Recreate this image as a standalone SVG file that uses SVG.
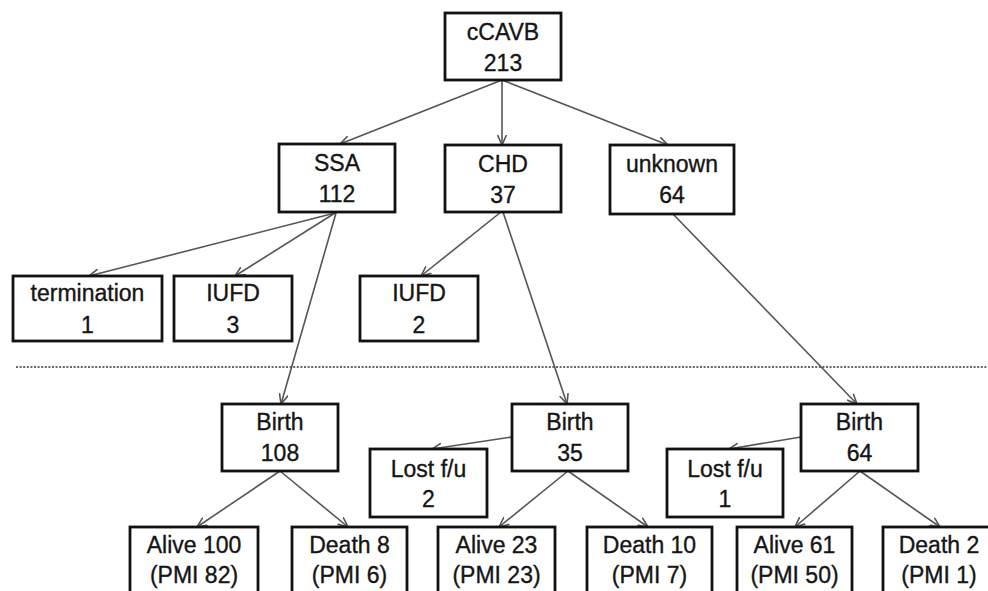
<svg xmlns="http://www.w3.org/2000/svg" width="988" height="591" viewBox="0 0 988 591">
<defs>
<style>
.box{fill:#fff;stroke:#111;stroke-width:2.8}
.t{font-family:"Liberation Sans",Arial,sans-serif;font-size:23px;fill:#151515;stroke:#151515;stroke-width:0.35;text-anchor:middle}
.c{fill:none;stroke:#555;stroke-width:1.6;marker-end:url(#ah)}
.sep{stroke:#666;stroke-width:2;stroke-dasharray:2 1.6;fill:none}
</style>
<marker id="ah" viewBox="0 0 10 10" refX="10" refY="5" markerWidth="10" markerHeight="10" markerUnits="userSpaceOnUse" orient="auto">
<path d="M0,0.5 L10,5 L0,9.5" fill="none" stroke="#555" stroke-width="1.6"/>
</marker>
</defs>
<rect width="988" height="591" fill="#fff"/>
<line class="sep" x1="16" y1="367" x2="988" y2="367"/>
<g id="connectors">
<line class="c" x1="502" y1="80" x2="340" y2="144"/>
<line class="c" x1="502" y1="80" x2="502" y2="145"/>
<line class="c" x1="502" y1="80" x2="668" y2="145"/>
<line class="c" x1="335" y1="213" x2="89" y2="276"/>
<line class="c" x1="335" y1="213" x2="235" y2="276"/>
<line class="c" x1="336" y1="213" x2="281" y2="404"/>
<line class="c" x1="501" y1="212" x2="421" y2="276"/>
<line class="c" x1="503" y1="212" x2="567" y2="404"/>
<line class="c" x1="673" y1="214" x2="857" y2="404"/>
<line class="c" x1="280" y1="471" x2="197" y2="527"/>
<line class="c" x1="280" y1="471" x2="348" y2="527"/>
<line class="c" x1="512" y1="437" x2="432" y2="449"/>
<line class="c" x1="568" y1="471" x2="499" y2="527"/>
<line class="c" x1="568" y1="471" x2="648" y2="527"/>
<line class="c" x1="801" y1="437" x2="729" y2="449"/>
<line class="c" x1="860" y1="471" x2="795" y2="527"/>
<line class="c" x1="860" y1="471" x2="940" y2="527"/>
</g>
<g id="cCAVB"><rect class="box" x="445" y="13" width="116" height="67"/><text class="t" x="503" y="40">cCAVB</text><text class="t" x="503" y="71">213</text></g>
<g id="SSA"><rect class="box" x="279" y="144" width="116" height="68"/><text class="t" x="337" y="171">SSA</text><text class="t" x="337" y="202">112</text></g>
<g id="CHD"><rect class="box" x="445" y="145" width="116" height="67"/><text class="t" x="503" y="172">CHD</text><text class="t" x="503" y="203">37</text></g>
<g id="unknown"><rect class="box" x="610" y="145" width="124" height="69"/><text class="t" x="672" y="172">unknown</text><text class="t" x="672" y="203">64</text></g>
<g id="termination"><rect class="box" x="13" y="276" width="149" height="65"/><text class="t" x="87.5" y="301">termination</text><text class="t" x="87.5" y="333">1</text></g>
<g id="IUFD3"><rect class="box" x="174" y="276" width="118" height="65"/><text class="t" x="233" y="301">IUFD</text><text class="t" x="233" y="333">3</text></g>
<g id="IUFD2"><rect class="box" x="360" y="276" width="118" height="65"/><text class="t" x="419" y="301">IUFD</text><text class="t" x="419" y="333">2</text></g>
<g id="Birth108"><rect class="box" x="222" y="404" width="116" height="67"/><text class="t" x="280" y="430">Birth</text><text class="t" x="280" y="461">108</text></g>
<g id="Birth35"><rect class="box" x="512" y="404" width="116" height="67"/><text class="t" x="570" y="430">Birth</text><text class="t" x="570" y="461">35</text></g>
<g id="Birth64"><rect class="box" x="801" y="404" width="117" height="67"/><text class="t" x="859.5" y="430">Birth</text><text class="t" x="859.5" y="461">64</text></g>
<g id="Lost2"><rect class="box" x="370" y="449" width="117" height="68"/><text class="t" x="428.5" y="477">Lost f/u</text><text class="t" x="428.5" y="507">2</text></g>
<g id="Lost1"><rect class="box" x="667" y="449" width="116" height="68"/><text class="t" x="725" y="477">Lost f/u</text><text class="t" x="725" y="507">1</text></g>
<g id="Alive100"><rect class="box" x="130" y="527" width="128" height="80"/><text class="t" x="194" y="553">Alive 100</text><text class="t" x="194" y="583">(PMI 82)</text></g>
<g id="Death8"><rect class="box" x="292" y="527" width="115" height="80"/><text class="t" x="349.5" y="553">Death 8</text><text class="t" x="349.5" y="583">(PMI 6)</text></g>
<g id="Alive23"><rect class="box" x="438" y="527" width="117" height="80"/><text class="t" x="496.5" y="553">Alive 23</text><text class="t" x="496.5" y="583">(PMI 23)</text></g>
<g id="Death10"><rect class="box" x="587" y="527" width="125" height="80"/><text class="t" x="649.5" y="553">Death 10</text><text class="t" x="649.5" y="583">(PMI 7)</text></g>
<g id="Alive61"><rect class="box" x="737" y="527" width="115" height="80"/><text class="t" x="794.5" y="553">Alive 61</text><text class="t" x="794.5" y="583">(PMI 50)</text></g>
<g id="Death2"><rect class="box" x="883" y="527" width="120" height="80"/><text class="t" x="939" y="553">Death 2</text><text class="t" x="939" y="583">(PMI 1)</text></g>
</svg>
